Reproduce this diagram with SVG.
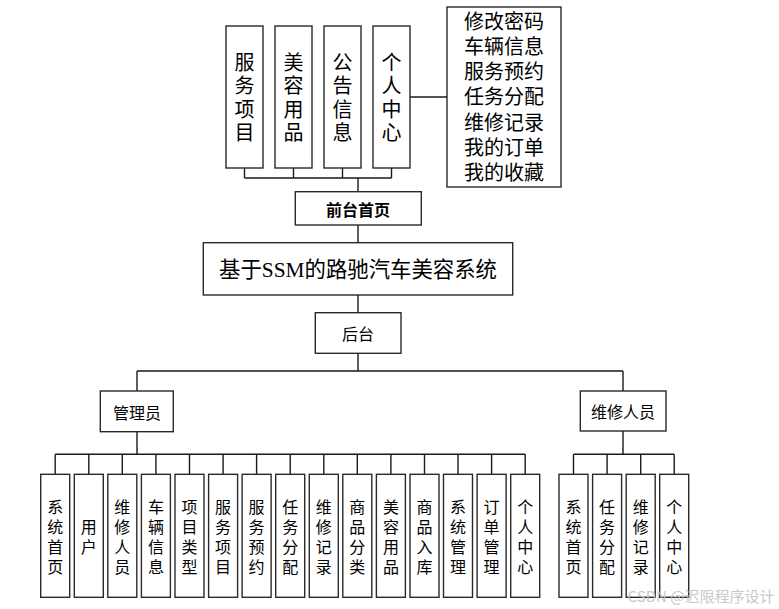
<svg xmlns="http://www.w3.org/2000/svg" width="779" height="609" viewBox="0 0 779 609">
<style>
.b{fill:#fff;stroke:#2a2a2a;stroke-width:1.4}
.c{fill:none;stroke:#1a1a1a;stroke-width:1.4}
text{font-family:"Noto Sans CJK SC","Noto Sans",sans-serif;fill:#000;text-anchor:middle;dominant-baseline:central}
.t20{font-size:20px}
.t16{font-size:16px}
.t15{font-size:15px}
.l20{font-size:20px;font-family:"Liberation Sans","Noto Sans CJK SC",sans-serif}
.v20{font-size:20px;writing-mode:vertical-rl;letter-spacing:3.5px}
.v16{font-size:16px;writing-mode:vertical-rl;letter-spacing:4px}
</style>
<rect width="779" height="609" fill="#fff"/>
<g id="connectors" class="c">
<path d="M244.5 168V178M293.5 168V178M342.5 168V178M391.5 168V178M244.5 178H391.5M358 178V191.7"/>
<path d="M410 97H447"/>
<path d="M358 225V242.7M358 295V312.7M358 353.3V371M137 371H623M137 371V391M623 371V391"/>
<path d="M137 431.7V454.3M55.2 454.3H525.2"/>
<path d="M55.2 454.3V474.3M88.8 454.3V474.3M122.3 454.3V474.3M155.9 454.3V474.3M189.5 454.3V474.3M223.1 454.3V474.3M256.6 454.3V474.3M290.2 454.3V474.3M323.8 454.3V474.3M357.3 454.3V474.3M390.9 454.3V474.3M424.5 454.3V474.3M458 454.3V474.3M491.6 454.3V474.3M525.2 454.3V474.3"/>
<path d="M623 431V454.3M573.5 454.3H674.2M573.5 454.3V474.3M607.1 454.3V474.3M640.7 454.3V474.3M674.2 454.3V474.3"/>
</g>
<g id="fw-fuwuxiangmu"><rect class="b" x="226" y="26" width="37" height="142"/><text class="v20" x="244.5" y="99">服务项目</text></g>
<g id="fw-meirong"><rect class="b" x="275" y="26" width="37" height="142"/><text class="v20" x="293.5" y="99">美容用品</text></g>
<g id="fw-gonggao"><rect class="b" x="324" y="26" width="37" height="142"/><text class="v20" x="342.5" y="99">公告信息</text></g>
<g id="fw-geren"><rect class="b" x="373" y="26" width="37" height="142"/><text class="v20" x="391.5" y="99">个人中心</text></g>
<g id="fw-list"><rect class="b" x="447" y="7" width="114" height="180"/>
<text class="l20" x="504" y="21.7">修改密码</text>
<text class="l20" x="504" y="46.9">车辆信息</text>
<text class="l20" x="504" y="72.1">服务预约</text>
<text class="l20" x="504" y="97.3">任务分配</text>
<text class="l20" x="504" y="122.5">维修记录</text>
<text class="l20" x="504" y="147.7">我的订单</text>
<text class="l20" x="504" y="172.9">我的收藏</text></g>
<g id="qiantai"><rect class="b" x="295.3" y="191.7" width="126" height="33.3"/><text class="t16" x="358" y="208.5" font-weight="bold">前台首页</text></g>
<g id="system"><rect class="b" x="203.3" y="242.7" width="309.4" height="52.3"/><text x="358" y="269" font-size="22" textLength="278" lengthAdjust="spacingAndGlyphs" style="font-family:'Liberation Serif','Noto Sans CJK SC',serif">基于SSM的路驰汽车美容系统</text></g>
<g id="houtai"><rect class="b" x="315.3" y="312.7" width="85.7" height="40.6"/><text class="t16" x="358" y="333">后台</text></g>
<g id="admin"><rect class="b" x="100.3" y="391" width="73" height="40.7"/><text class="t16" x="137" y="411.5">管理员</text></g>
<g id="worker"><rect class="b" x="580.3" y="391" width="85.7" height="40"/><text class="t16" x="623" y="411">维修人员</text></g>
<g id="a1"><rect class="b" x="40.7" y="474.3" width="29" height="123"/><text class="v16" x="55.2" y="538.5">系统首页</text></g>
<g id="a2"><rect class="b" x="74.3" y="474.3" width="29" height="123"/><text class="v16" x="88.8" y="538.5">用户</text></g>
<g id="a3"><rect class="b" x="107.8" y="474.3" width="29" height="123"/><text class="v16" x="122.3" y="538.5">维修人员</text></g>
<g id="a4"><rect class="b" x="141.4" y="474.3" width="29" height="123"/><text class="v16" x="155.9" y="538.5">车辆信息</text></g>
<g id="a5"><rect class="b" x="175" y="474.3" width="29" height="123"/><text class="v16" x="189.5" y="538.5">项目类型</text></g>
<g id="a6"><rect class="b" x="208.6" y="474.3" width="29" height="123"/><text class="v16" x="223.1" y="538.5">服务项目</text></g>
<g id="a7"><rect class="b" x="242.1" y="474.3" width="29" height="123"/><text class="v16" x="256.6" y="538.5">服务预约</text></g>
<g id="a8"><rect class="b" x="275.7" y="474.3" width="29" height="123"/><text class="v16" x="290.2" y="538.5">任务分配</text></g>
<g id="a9"><rect class="b" x="309.3" y="474.3" width="29" height="123"/><text class="v16" x="323.8" y="538.5">维修记录</text></g>
<g id="a10"><rect class="b" x="342.8" y="474.3" width="29" height="123"/><text class="v16" x="357.3" y="538.5">商品分类</text></g>
<g id="a11"><rect class="b" x="376.4" y="474.3" width="29" height="123"/><text class="v16" x="390.9" y="538.5">美容用品</text></g>
<g id="a12"><rect class="b" x="410" y="474.3" width="29" height="123"/><text class="v16" x="424.5" y="538.5">商品入库</text></g>
<g id="a13"><rect class="b" x="443.5" y="474.3" width="29" height="123"/><text class="v16" x="458" y="538.5">系统管理</text></g>
<g id="a14"><rect class="b" x="477.1" y="474.3" width="29" height="123"/><text class="v16" x="491.6" y="538.5">订单管理</text></g>
<g id="a15"><rect class="b" x="510.7" y="474.3" width="29" height="123"/><text class="v16" x="525.2" y="538.5">个人中心</text></g>
<g id="w1"><rect class="b" x="559" y="474.3" width="29" height="123"/><text class="v16" x="573.5" y="538.5">系统首页</text></g>
<g id="w2"><rect class="b" x="592.6" y="474.3" width="29" height="123"/><text class="v16" x="607.1" y="538.5">任务分配</text></g>
<g id="w3"><rect class="b" x="626.2" y="474.3" width="29" height="123"/><text class="v16" x="640.7" y="538.5">维修记录</text></g>
<g id="w4"><rect class="b" x="659.7" y="474.3" width="29" height="123"/><text class="v16" x="674.2" y="538.5">个人中心</text></g>
<text x="701" y="595" class="t15" style="fill:#c4c4c4;opacity:0.9">CSDN @迟限程序设计</text>
</svg>
